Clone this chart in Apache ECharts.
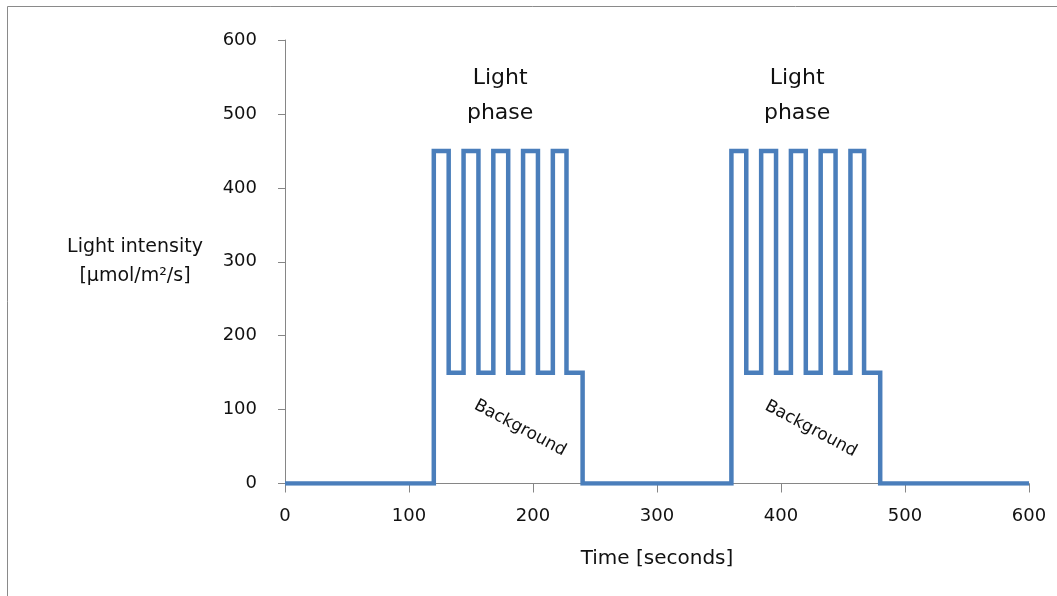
<!DOCTYPE html>
<html>
<head>
<meta charset="utf-8">
<script src="https://cdn.jsdelivr.net/npm/echarts@6/dist/echarts.min.js"></script>
<style>
  html, body { margin: 0; padding: 0; background: #ffffff; }
  #chart { width: 1057px; height: 596px; }
</style>
</head>
<body>
<div id="chart"></div>
<script>
// Times (s) at which the light level changes, and the level held from that time on
const switchTimes = [0, 120, 132, 144, 156, 168, 180, 192, 204, 216, 227, 240,
                     360, 372, 384, 396, 408, 420, 432, 444, 456, 467, 480, 600];
const levels      = [0, 450, 150, 450, 150, 450, 150, 450, 150, 450, 150, 0,
                     450, 150, 450, 150, 450, 150, 450, 150, 450, 150, 0, 0];
const xTicks = [0, 100, 200, 300, 400, 500, 600];
const yTicks = [0, 100, 200, 300, 400, 500, 600];
const phaseLabel = 'Light\nphase';
const backgroundLabel = 'Background';
const xTitle = 'Time [seconds]';
const yTitle = 'Light intensity\n[µmol/m²/s]';

const FONT = 'DejaVu Sans';
const TXT = '#111111';
const AXIS = '#868686';

const points = switchTimes.map((t, i) => [t, levels[i]]);

const chart = echarts.init(document.getElementById('chart'), null, { renderer: 'canvas' });
chart.setOption({
  animation: false,
  backgroundColor: '#ffffff',
  grid: { left: 285, right: 28, top: 40, bottom: 112.5, containLabel: false },
  graphic: [{
    type: 'rect', silent: true,
    shape: { x: 7.5, y: 6.5, width: 1200, height: 800 },
    style: { fill: 'none', stroke: '#8a8a8a', lineWidth: 1 }
  }],
  xAxis: {
    type: 'value', min: xTicks[0], max: xTicks[xTicks.length - 1], interval: 100,
    name: xTitle, nameLocation: 'middle', nameGap: 65,
    nameTextStyle: { fontFamily: FONT, fontSize: 20, color: TXT },
    axisLine: { show: true, lineStyle: { color: AXIS, width: 1 } },
    axisTick: { show: true, length: 9, lineStyle: { color: AXIS } },
    axisLabel: { margin: 24, fontFamily: FONT, fontSize: 18, color: TXT },
    splitLine: { show: false }
  },
  yAxis: {
    type: 'value', min: yTicks[0], max: yTicks[yTicks.length - 1], interval: 100,
    name: yTitle, nameLocation: 'middle', nameRotate: 0, nameGap: 150,
    nameTextStyle: { fontFamily: FONT, fontSize: 19, color: TXT, align: 'center', verticalAlign: 'middle', lineHeight: 29 },
    axisLine: { show: true, lineStyle: { color: AXIS, width: 1 } },
    axisTick: { show: true, length: 7, lineStyle: { color: AXIS } },
    axisLabel: { margin: 28, fontFamily: FONT, fontSize: 18, color: TXT },
    splitLine: { show: false }
  },
  series: [{
    type: 'line',
    step: 'end',
    data: points,
    showSymbol: false,
    symbol: 'none',
    lineStyle: { color: '#4a7ebb', width: 4.5, join: 'miter', cap: 'butt' },
    markPoint: {
      symbol: 'circle', symbolSize: 0, silent: true,
      data: [
        { coord: [173.5, 525], label: { formatter: phaseLabel, fontSize: 22, lineHeight: 35 } },
        { coord: [413, 525], label: { formatter: phaseLabel, fontSize: 22, lineHeight: 35 } },
        { coord: [189.6, 75], label: { formatter: backgroundLabel, fontSize: 17, rotate: -28 } },
        { coord: [424, 74], label: { formatter: backgroundLabel, fontSize: 17, rotate: -28 } }
      ],
      label: { show: true, position: 'inside', fontFamily: FONT, color: TXT, align: 'center', verticalAlign: 'middle' }
    }
  }]
});
</script>
</body>
</html>
